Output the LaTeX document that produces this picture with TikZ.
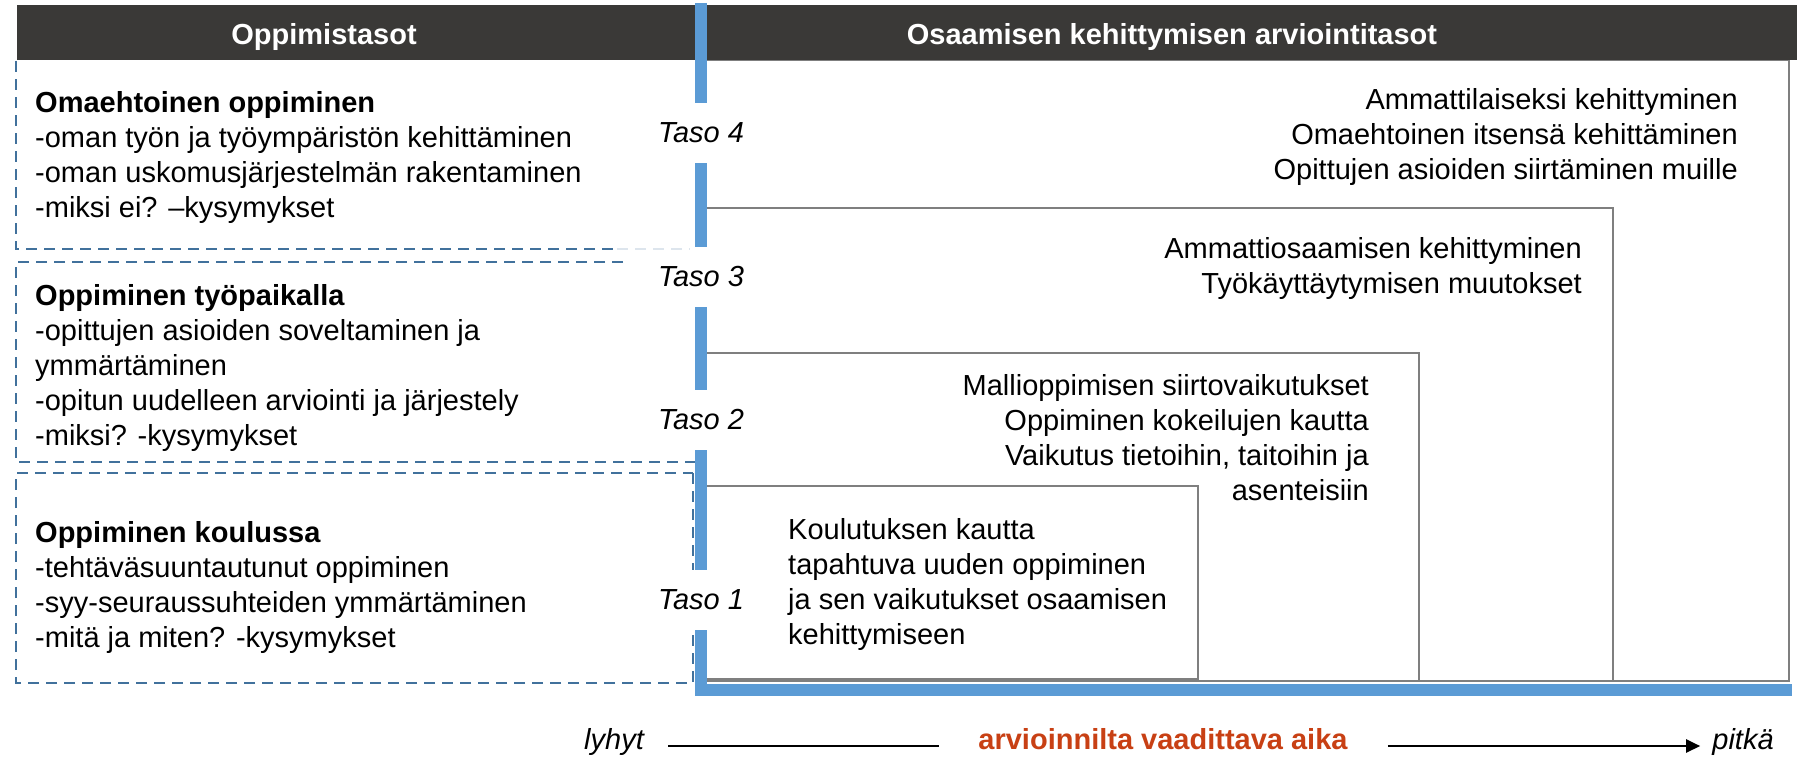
\documentclass[tikz,border=0pt]{standalone}
\usepackage{fontspec}
\setmainfont{Liberation Sans}
\usetikzlibrary{arrows.meta}
\definecolor{headgray}{RGB}{58,57,55}
\definecolor{axisblue}{RGB}{91,155,213}
\definecolor{dashblue}{RGB}{65,113,156}
\definecolor{boxgray}{RGB}{127,127,127}
\definecolor{timered}{RGB}{200,64,20}
\begin{document}
\begin{tikzpicture}[x=1pt,y=-1pt,inner sep=0pt,
		every node/.style={font=\fontsize{29}{35}\selectfont},
		head/.style={font=\fontsize{29}{35}\selectfont\bfseries,text=white,text height=21pt,text depth=6pt},
		level box/.style={draw=boxgray,line width=2pt},
		dash box/.style={draw=dashblue,line width=2.5pt,dash pattern=on 11pt off 7pt},
		axis/.style={draw=axisblue,line width=12pt},
		taso/.style={font=\fontsize{29}{35}\selectfont\itshape,fill=white,minimum height=60pt,minimum width=86pt},
		left text/.style={anchor=north west,align=left},
		right text/.style={anchor=north east,align=right},
		time/.style={text height=20pt,text depth=14pt}]
		\useasboundingbox (0,0) rectangle (1804,760);
		% arviointitasot
		\draw[level box] (701,60) rectangle (1789,681);
		\draw[level box] (701,208) rectangle (1613,681);
		\draw[level box] (701,353) rectangle (1419,681);
		\draw[level box] (701,486) rectangle (1198,679);
		% otsikot
		\fill[headgray] (17,5) rectangle (1797,60);
		\node[head] (h1) at (324,37) {Oppimistasot};
		\node[head] (h2) at (1172,37) {Osaamisen kehittymisen arviointitasot};
		\draw[dash box] (693,473) rectangle (16,683);
		% tasot
		\node[taso] (t4) at (701,133) {Taso 4};
		\node[taso] (t3) at (701,277) {Taso 3};
		\node[taso] (t2) at (701,420) {Taso 2};
		\node[taso] (t1) at (701,600) {Taso 1};
		% oppimistasot
		\draw[dash box] (16,61) -- (16,249) -- (617,249);
		\draw[dash box,draw=dashblue!18] (617,249) -- (690,249);
		\draw[dash box] (623,262) -- (16,262) -- (16,462) -- (695,462);
		\coordinate (axtop) at (701,3);
		\coordinate (axend) at (1792,690);
		\draw[axis] (axtop) -- (t4.north);
		\draw[axis] (t4.south) -- (t3.north);
		\draw[axis] (t3.south) -- (t2.north);
		\draw[axis] (t2.south) -- (t1.north);
		\draw[axis] (t1.south) |- (axend);
		% tekstit
		\node[left text] (oma) at (35,91) {\textbf{Omaehtoinen oppiminen}\\-oman työn ja työympäristön kehittäminen\\-oman uskomusjärjestelmän rakentaminen\\-miksi ei? –kysymykset};
		\node[left text] (tyo) at (35,284) {\textbf{Oppiminen työpaikalla}\\-opittujen asioiden soveltaminen ja\\ymmärtäminen\\-opitun uudelleen arviointi ja järjestely\\-miksi? -kysymykset};
		\node[left text] (koulu) at (35,521) {\textbf{Oppiminen koulussa}\\-tehtäväsuuntautunut oppiminen\\-syy-seuraussuhteiden ymmärtäminen\\-mitä ja miten? -kysymykset};
		\node[right text] (a4) at (1738,88) {Ammattilaiseksi kehittyminen\\Omaehtoinen itsensä kehittäminen\\Opittujen asioiden siirtäminen muille};
		\node[right text] (a3) at (1582,237) {Ammattiosaamisen kehittyminen\\Työkäyttäytymisen muutokset};
		\node[right text] (a2) at (1369,374) {Mallioppimisen siirtovaikutukset\\Oppiminen kokeilujen kautta\\Vaikutus tietoihin, taitoihin ja\\asenteisiin};
		\node[left text] (a1) at (788,518) {Koulutuksen kautta\\tapahtuva uuden oppiminen\\ja sen vaikutukset osaamisen\\kehittymiseen};
		% aika
		\node[time,font=\fontsize{29}{35}\selectfont\itshape] (short) at (614,746) {lyhyt};
		\node[time,font=\fontsize{29}{35}\selectfont\bfseries,text=timered] (span) at (1163,746) {arvioinnilta vaadittava aika};
		\node[time,font=\fontsize{29}{35}\selectfont\itshape] (long) at (1743,746) {pitkä};
		\draw[line width=2.5pt,shorten <=24pt,shorten >=39pt] (short.east) -- (span.west);
		\draw[line width=2.5pt,-{Triangle[length=14pt,width=13pt]},shorten <=40pt,shorten >=12pt] (span.east) -- (long.west);
\end{tikzpicture}
\end{document}
